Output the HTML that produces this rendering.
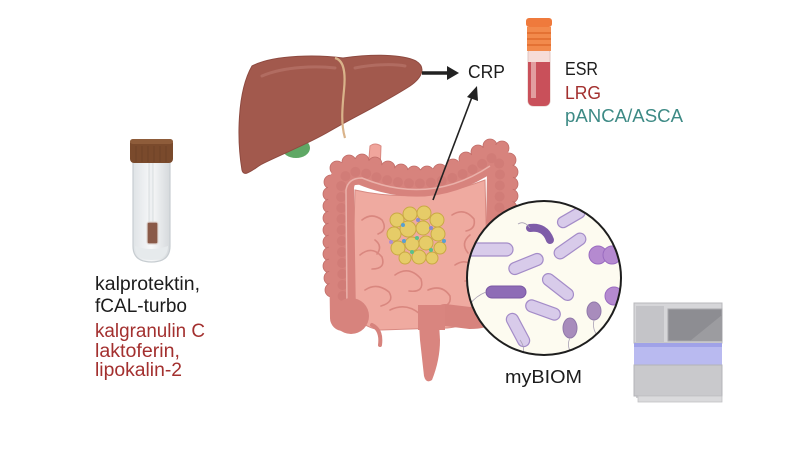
<!DOCTYPE html>
<html><head><meta charset="utf-8"><style>
html,body{margin:0;padding:0;background:#fff;}
svg{display:block;}
text{font-family:"Liberation Sans",Arial,sans-serif;}
</style></head><body>
<svg width="800" height="450" viewBox="0 0 800 450" xmlns="http://www.w3.org/2000/svg">
<defs>
<clipPath id="cc"><circle cx="544" cy="278" r="77"/></clipPath>
<linearGradient id="tube" x1="0" x2="1"><stop offset="0" stop-color="#dfe3e6"/><stop offset="0.5" stop-color="#f7f8f9"/><stop offset="1" stop-color="#d5d9dc"/></linearGradient>
</defs>
<rect width="800" height="450" fill="#fff"/>

<!-- stool tube -->
<path d="M133 160 L170 160 L170 246 Q170 262 151.5 262 Q133 262 133 246 Z" fill="url(#tube)" stroke="#c7cdd1" stroke-width="1.2"/>
<path d="M135 246 Q151 252 168 246 Q168 260 151.5 260 Q135 260 135 246 Z" fill="#e6eaec"/>
<rect x="149" y="160" width="4" height="68" fill="#eef0f2" stroke="#c9cdd0" stroke-width="0.6"/>
<rect x="147" y="222" width="11" height="22" rx="2" fill="#8a5a48" stroke="#e0d8d4" stroke-width="1.2"/>
<rect x="130" y="139" width="43" height="24" rx="4" fill="#7a4a2c"/>
<rect x="130" y="139" width="43" height="5" rx="3" fill="#8e5c3a"/>
<g stroke="#5f3820" stroke-width="0.8" opacity="0.5">
<line x1="136" y1="146" x2="136" y2="162"/><line x1="142" y1="146" x2="142" y2="162"/><line x1="148" y1="146" x2="148" y2="162"/><line x1="154" y1="146" x2="154" y2="162"/><line x1="160" y1="146" x2="160" y2="162"/><line x1="166" y1="146" x2="166" y2="162"/>
</g>

<!-- left texts -->
<text x="95" y="290" font-size="19" fill="#1c1c1c" textLength="105" lengthAdjust="spacingAndGlyphs">kalprotektin,</text>
<text x="95" y="312" font-size="19" fill="#1c1c1c" textLength="92" lengthAdjust="spacingAndGlyphs">fCAL-turbo</text>
<text x="95" y="337" font-size="19" fill="#a3302f" textLength="110" lengthAdjust="spacingAndGlyphs">kalgranulin C</text>
<text x="95" y="357" font-size="19" fill="#a3302f" textLength="85" lengthAdjust="spacingAndGlyphs">laktoferin,</text>
<text x="95" y="376" font-size="19" fill="#a3302f" textLength="87" lengthAdjust="spacingAndGlyphs">lipokalin-2</text>

<!-- liver -->
<ellipse cx="296" cy="148" rx="14" ry="10" fill="#5fa865"/>
<path d="M252 66 C275 54 320 55 343 58 C372 54 402 54 416 61 C426 67 423 77 410 86 C382 104 352 118 330 131 C308 144 282 154 262 164 C252 170 244 178 242 170 C237 140 237 92 252 66 Z" fill="#a2594d" stroke="#8e4a40" stroke-width="1"/>
<path d="M262 76 C285 66 318 66 335 68" stroke="#b8756a" stroke-width="3" fill="none" stroke-linecap="round" opacity="0.7"/>
<path d="M355 68 C375 64 395 64 405 66" stroke="#b8756a" stroke-width="3" fill="none" stroke-linecap="round" opacity="0.7"/>
<path d="M335 58 C343 60 346 70 344 90 C342 110 341 125 345 138" stroke="#d9b38a" stroke-width="2.2" fill="none"/>

<!-- arrow liver->CRP -->
<line x1="422" y1="73" x2="448" y2="73" stroke="#222" stroke-width="3.5"/>
<polygon points="447,66 459,73 447,80" fill="#222"/>
<text x="468" y="78" font-size="18" fill="#1c1c1c" textLength="37" lengthAdjust="spacingAndGlyphs">CRP</text>

<!-- blood tube -->
<rect x="528" y="48" width="22" height="58" rx="5" fill="#f6dcd8" stroke="#e0c4c0" stroke-width="1"/>
<path d="M528 62 L550 62 L550 100 Q550 106 544 106 L534 106 Q528 106 528 100 Z" fill="#c9505a"/>
<rect x="531" y="62" width="5" height="36" fill="#e8b0b0" opacity="0.8"/>
<rect x="526" y="18" width="26" height="9" rx="3" fill="#ef7a3c"/>
<rect x="527" y="27" width="24" height="24" fill="#f28a4c"/>
<g stroke="#e06a2c" stroke-width="1.5"><line x1="527" y1="33" x2="551" y2="33"/><line x1="527" y1="39" x2="551" y2="39"/><line x1="527" y1="45" x2="551" y2="45"/></g>

<text x="565" y="75" font-size="18" fill="#1c1c1c" textLength="33" lengthAdjust="spacingAndGlyphs">ESR</text>
<text x="565" y="99" font-size="18" fill="#a3302f" textLength="36" lengthAdjust="spacingAndGlyphs">LRG</text>
<text x="565" y="122" font-size="18" fill="#3d8a85" textLength="118" lengthAdjust="spacingAndGlyphs">pANCA/ASCA</text>

<!-- intestines -->
<path d="M368 170 L370 146 Q375 142 381 146 L380 172 Z" fill="#f0a59c" stroke="#d98880" stroke-width="1"/>
<path d="M355 190 Q420 205 485 180 L488 300 Q470 330 440 328 L380 330 Q352 325 352 300 Z" fill="#efaaa0" stroke="#d88a82" stroke-width="1"/>
<g fill="none" stroke="#d9877f" stroke-width="1.6" stroke-linecap="round">
<path d="M362 220 q10 -8 20 0 q6 10 -4 14"/>
<path d="M360 255 q12 -10 22 2 q4 12 -10 12"/>
<path d="M365 290 q12 -8 24 2 q6 10 -8 14"/>
<path d="M395 275 q14 -10 26 4 q4 14 -12 12"/>
<path d="M428 290 q14 -6 22 6 q2 12 -14 10"/>
<path d="M455 265 q12 -8 20 4 q2 12 -10 12"/>
<path d="M452 215 q12 -8 22 4 q2 10 -8 12"/>
<path d="M390 310 q16 -8 30 4"/>
<path d="M440 310 q14 -6 26 4"/>
<path d="M470 235 q-10 8 -2 18"/>
<path d="M375 240 q8 6 2 14"/>
</g>
<!-- colon lumps (outer) -->
<g fill="#d7837d" stroke="#c16d68" stroke-width="0.8">
<circle cx="331" cy="182" r="7"/><circle cx="330" cy="194" r="7"/><circle cx="330" cy="206" r="7"/><circle cx="330" cy="218" r="7"/><circle cx="330" cy="230" r="7"/><circle cx="330" cy="242" r="7"/><circle cx="330" cy="254" r="7"/><circle cx="330" cy="266" r="7"/><circle cx="331" cy="278" r="7"/><circle cx="332" cy="290" r="7"/>
<circle cx="337" cy="168" r="7"/><circle cx="349" cy="162" r="7"/><circle cx="362" cy="161" r="7"/><circle cx="375" cy="164" r="7"/><circle cx="388" cy="168" r="7"/><circle cx="401" cy="171" r="7"/><circle cx="414" cy="173" r="7"/><circle cx="427" cy="173" r="7"/><circle cx="440" cy="171" r="7"/><circle cx="453" cy="166" r="7"/><circle cx="466" cy="159" r="7"/><circle cx="478" cy="152" r="7"/><circle cx="490" cy="146" r="7"/><circle cx="502" cy="148" r="7"/>
<circle cx="509" cy="160" r="7"/><circle cx="511" cy="172" r="7"/><circle cx="511" cy="184" r="7"/><circle cx="511" cy="196" r="7"/><circle cx="510" cy="208" r="7"/>
</g>
<!-- colon -->
<path d="M343 318 L341 188 Q342 170 362 172 Q430 200 488 160 Q500 152 500 172 L498 300" fill="none" stroke="#d7837d" stroke-width="26" stroke-linejoin="round" stroke-linecap="round"/>
<path d="M343 318 L341 188 Q342 170 362 172 Q430 200 488 160 Q500 152 500 172 L498 300" fill="none" stroke="#b8625e" stroke-width="10" stroke-dasharray="0 11" stroke-linecap="round" opacity="0.2"/>
<path d="M347 310 L346 190 Q348 178 362 178 Q430 206 490 166" fill="none" stroke="#eab1aa" stroke-width="1.5"/>
<circle cx="351" cy="316" r="18" fill="#d7837d"/>
<path d="M372 325 q10 5 8 20" stroke="#d7837d" stroke-width="4" fill="none" stroke-linecap="round"/>
<path d="M498 300 Q496 318 470 318 L445 315" fill="none" stroke="#d7837d" stroke-width="22" stroke-linecap="round"/>
<path d="M438 305 L440 340 Q440 360 432 380 Q426 384 424 376 L420 340 L418 308 Z" fill="#d9857f"/>
<path d="M418 305 L445 305 L445 330 L418 330 Z" fill="#d9857f"/>

<!-- yellow cluster -->
<g fill="#e6cc68" stroke="#c9a944" stroke-width="1">
<circle cx="397" cy="220" r="7"/><circle cx="410" cy="214" r="7"/><circle cx="424" cy="213" r="7"/><circle cx="437" cy="220" r="7"/>
<circle cx="394" cy="234" r="7"/><circle cx="408" cy="229" r="8"/><circle cx="423" cy="228" r="7"/><circle cx="438" cy="234" r="7"/>
<circle cx="398" cy="248" r="7"/><circle cx="412" cy="244" r="7"/><circle cx="426" cy="243" r="7"/><circle cx="440" cy="248" r="6"/>
<circle cx="405" cy="258" r="6"/><circle cx="419" cy="257" r="7"/><circle cx="432" cy="258" r="6"/>
</g>
<g>
<circle cx="403" cy="225" r="2" fill="#5aa0d0"/><circle cx="417" cy="238" r="2" fill="#5ac08a"/><circle cx="431" cy="228" r="2" fill="#8a8ad0"/>
<circle cx="404" cy="241" r="2" fill="#5aa0d0"/><circle cx="431" cy="250" r="2" fill="#5ac08a"/><circle cx="418" cy="220" r="2" fill="#8a8ad0"/>
<circle cx="391" cy="242" r="2" fill="#b090d0"/><circle cx="444" cy="241" r="2" fill="#5aa0d0"/><circle cx="412" cy="252" r="2" fill="#5ac08a"/>
</g>

<!-- arrow intestine -> CRP -->
<line x1="433" y1="200" x2="472" y2="97" stroke="#222" stroke-width="1.6"/>
<polygon points="477,86 478,101 467,97" fill="#222"/>

<!-- microbiome circle -->
<circle cx="544" cy="278" r="77" fill="#fdfbf0"/>
<g clip-path="url(#cc)">
<g stroke="#a48cc8" stroke-width="1.2" fill="#d8cbea">
<rect x="465" y="243" width="48" height="13" rx="6.5"/>
<rect x="556" y="212" width="30" height="11" rx="5.5" transform="rotate(-30 571 217)"/>
<rect x="552" y="240" width="36" height="12" rx="6" transform="rotate(-35 570 246)"/>
<rect x="508" y="258" width="36" height="12" rx="6" transform="rotate(-22 526 264)"/>
<rect x="540" y="281" width="36" height="12" rx="6" transform="rotate(38 558 287)"/>
<rect x="525" y="304" width="36" height="12" rx="6" transform="rotate(20 543 310)"/>
<rect x="500" y="324" width="36" height="12" rx="6" transform="rotate(62 518 330)"/>
</g>
<path d="M530 228 Q545 226 550 240" stroke="#7e5ca8" stroke-width="8" fill="none" stroke-linecap="round"/>
<rect x="486" y="286" width="40" height="12" rx="6" fill="#8e6cb6" stroke="#7a58a4" stroke-width="1"/>
<g fill="#b58ad0" stroke="#9a6cc0" stroke-width="1">
<circle cx="598" cy="255" r="9"/><circle cx="612" cy="255" r="9"/><circle cx="614" cy="296" r="9"/>
</g>
<g fill="#a88cbc" stroke="#9078aa" stroke-width="1">
<ellipse cx="570" cy="328" rx="7" ry="10"/><ellipse cx="594" cy="311" rx="7" ry="9"/>
</g>
<g stroke="#a9a0b4" stroke-width="0.8" fill="none">
<path d="M465 250 q-6 6 -2 14"/><path d="M486 292 q-10 4 -16 12"/><path d="M530 228 q-6 -8 -12 -4"/>
<path d="M570 338 q-4 8 2 16"/><path d="M594 320 q-2 10 4 16"/><path d="M520 340 q6 8 2 16"/>
</g>
</g>
<circle cx="544" cy="278" r="77" fill="none" stroke="#1e1e1e" stroke-width="2"/>
<text x="505" y="383" font-size="18" fill="#1c1c1c" textLength="77" lengthAdjust="spacingAndGlyphs">myBIOM</text>

<!-- sequencer machine -->
<path d="M636 303 L722 303 L722 398 L636 398 Z" fill="#cfcfd2"/>
<rect x="634" y="303" width="88" height="40" fill="#d6d6d9" stroke="#b8b8bc" stroke-width="1"/>
<rect x="636" y="306" width="28" height="36" fill="#c4c4c8"/>
<rect x="668" y="309" width="54" height="32" fill="#8d8d92" stroke="#a8a8ac" stroke-width="1"/>
<path d="M690 341 L722 315 L722 341 Z" fill="#9c9ca0"/>
<rect x="634" y="343" width="88" height="22" fill="#b9baf0"/>
<rect x="634" y="343" width="88" height="4" fill="#a0a2e8"/>
<rect x="634" y="365" width="88" height="31" fill="#c9c9cc" stroke="#b4b4b8" stroke-width="1"/>
<rect x="638" y="396" width="84" height="6" fill="#dadadc" stroke="#c0c0c4" stroke-width="0.8"/>
</svg>
</body></html>
